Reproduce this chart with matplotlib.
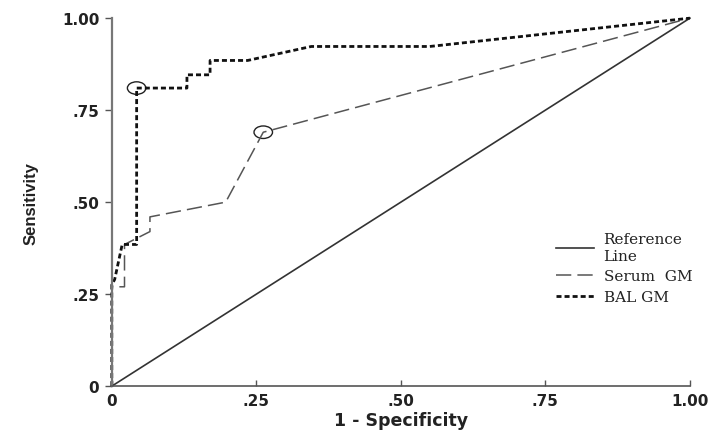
import matplotlib.pyplot as plt
from matplotlib.patches import Ellipse

# ROC coordinates (1 - specificity, sensitivity)
bal_fpr = [0, 0, 0.005, 0.018, 0.043, 0.043, 0.13, 0.13, 0.17, 0.17, 0.235, 0.345, 0.55, 1.0]
bal_tpr = [0, 0.275, 0.29, 0.385, 0.385, 0.81, 0.81, 0.846, 0.846, 0.885, 0.885, 0.923, 0.923, 1.0]

serum_fpr = [0, 0, 0.022, 0.022, 0.066, 0.066, 0.197, 0.262, 1.0]
serum_tpr = [0, 0.27, 0.27, 0.385, 0.42, 0.46, 0.50, 0.69, 1.0]

ref_x = [0, 1]
ref_y = [0, 1]

# optimal cut-off points circled on each curve
cut_x = [0.043, 0.262]
cut_y = [0.81, 0.69]

ticks = [0, 0.25, 0.5, 0.75, 1.0]
tick_labels = ['0', '.25', '.50', '.75', '1.00']

fig = plt.figure(figsize=(7.12, 4.35), dpi=100)
ax = fig.add_axes([0.157, 0.110, 0.812, 0.846])

ax.plot(ref_x, ref_y, color='#333333', lw=1.2, label='Reference\nLine', clip_on=False)
ax.plot(serum_fpr, serum_tpr, color='#555555', lw=1.1, dashes=(10, 4),
        label='Serum  GM', clip_on=False)
ax.plot(bal_fpr, bal_tpr, color='#111111', lw=2.0, dashes=(1.8, 1.1),
        label='BAL GM', clip_on=False)

for cx, cy in zip(cut_x, cut_y):
    ax.add_patch(Ellipse((cx, cy), 0.032, 0.034, fill=False, ec='#222222', lw=1.0,
                         clip_on=False))

ax.set_xlim(0, 1)
ax.set_ylim(0, 1)
ax.set_xticks(ticks)
ax.set_xticklabels(tick_labels)
ax.set_yticks(ticks)
ax.set_yticklabels(tick_labels)

for s in ['top', 'right']:
    ax.spines[s].set_visible(False)
ax.spines['left'].set_color('#777777')
ax.spines['left'].set_linewidth(1.6)
ax.spines['bottom'].set_color('#555555')
ax.spines['bottom'].set_linewidth(1.2)

ax.tick_params(axis='y', direction='out', length=5, width=1, color='#555555', pad=4)
ax.tick_params(axis='x', direction='in', length=4, width=1, color='#555555', pad=5)
for lab in ax.get_xticklabels() + ax.get_yticklabels():
    lab.set_fontfamily('DejaVu Sans')
    lab.set_fontweight('bold')
    lab.set_fontsize(11)
    lab.set_color('#222222')

ax.set_xlabel('1 - Specificity', fontfamily='DejaVu Sans', fontweight='bold',
              fontsize=12.5, color='#222222', labelpad=2)
ax.set_ylabel('Sensitivity', fontfamily='Liberation Sans', fontweight='bold',
              fontsize=12, color='#222222', labelpad=17)

leg = ax.legend(loc='center left', bbox_to_anchor=(0.745, 0.32), frameon=False,
                prop={'family': 'DejaVu Serif', 'size': 11}, handlelength=2.5,
                handletextpad=0.6, labelspacing=0.45)
for t in leg.get_texts():
    t.set_color('#222222')

fig.savefig('out.png', dpi=100, facecolor='white')
